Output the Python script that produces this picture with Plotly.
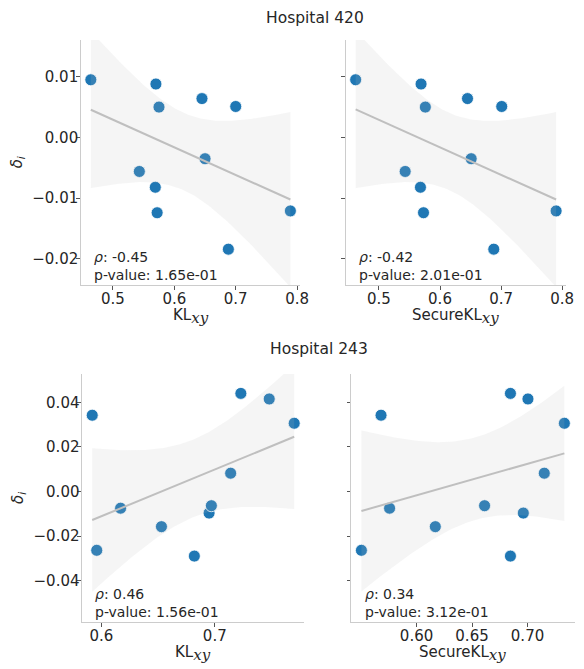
import numpy as np
import plotly.graph_objects as go

# ---------------- data ----------------
kl_420 = [0.464, 0.570, 0.575, 0.645, 0.700, 0.650, 0.543, 0.569, 0.572, 0.688, 0.789]
skl_420 = [0.462, 0.569, 0.576, 0.645, 0.701, 0.651, 0.543, 0.568, 0.573, 0.688, 0.790]
delta_420 = [0.0095, 0.0088, 0.0050, 0.0064, 0.0051, -0.0035, -0.0056, -0.0082, -0.0124, -0.0184, -0.0121]

kl_243 = [0.592, 0.596, 0.617, 0.653, 0.682, 0.695, 0.697, 0.714, 0.723, 0.748, 0.770]
skl_243 = [0.568, 0.5503, 0.5757, 0.6169, 0.6846, 0.6962, 0.6613, 0.7151, 0.6846, 0.7004, 0.7332]
delta_243 = [0.0342, -0.0264, -0.0075, -0.0158, -0.0290, -0.0097, -0.0064, 0.0082, 0.0440, 0.0415, 0.0306]

rho_labels = ["-0.45", "-0.42", "0.46", "0.34"]
pval_labels = ["1.65e-01", "2.01e-01", "1.56e-01", "3.12e-01"]
hospitals = ["Hospital 420", "Hospital 243"]

x_ticks_top = [0.5, 0.6, 0.7, 0.8]
x_ticks_bl = [0.6, 0.7]
x_ticks_br = [0.60, 0.65, 0.70]
y_ticks_top = [0.01, 0.00, -0.01, -0.02]
y_ticks_bot = [0.04, 0.02, 0.00, -0.02, -0.04]

# ---------------- style ----------------
OFF = 8                      # page body margin
W, H = 584 - OFF, 669 - OFF  # figure size inside the window
TXT = "#262626"
FONT = "DejaVu Sans"
PT = "#1f77b4"
LINE = "#bfbfbf"
BAND = "rgba(191,191,191,0.15)"
T975 = 2.262  # t quantile, df = 9


def fx(px):
    return (px - OFF) / W


def fy(py):
    return 1 - (py - OFF) / H


panels = [
    dict(x=kl_420, y=delta_420, xd=[82, 305], yd=[40, 285], yr=[-0.0243, 0.01605],
         xt=x_ticks_top, xf=".1f", yt=y_ticks_top, lab="KL", ylab=True),
    dict(x=skl_420, y=delta_420, xd=[351, 575], yd=[40, 285], yr=[-0.0243, 0.01605],
         xt=x_ticks_top, xf=".1f", yt=y_ticks_top, lab="SecureKL", ylab=False),
    dict(x=kl_243, y=delta_243, xd=[83.3, 309], yd=[374, 622.3], yr=[-0.0587, 0.0527],
         xt=x_ticks_bl, xf=".1f", yt=y_ticks_bot, lab="KL", ylab=True),
    dict(x=skl_243, y=delta_243, xd=[356.7, 583.5], yd=[374, 622.3], yr=[-0.0587, 0.0527],
         xt=x_ticks_br, xf=".2f", yt=y_ticks_bot, lab="SecureKL", ylab=False),
]

fig = go.Figure()
annotations = []
for i, p in enumerate(panels):
    k = "" if i == 0 else str(i + 1)
    xa, ya = "x" + k, "y" + k
    x = np.array(p["x"])
    y = np.array(p["y"])
    n = len(x)
    b1, b0 = np.polyfit(x, y, 1)
    xbar = x.mean()
    sxx = ((x - xbar) ** 2).sum()
    s = np.sqrt(((y - (b0 + b1 * x)) ** 2).sum() / (n - 2))
    g = np.linspace(x.min(), x.max(), 100)
    fit = b0 + b1 * g
    se = s * np.sqrt(1.0 / n + (g - xbar) ** 2 / sxx)
    up, lo = fit + T975 * se, fit - T975 * se

    fig.add_trace(go.Scatter(x=x, y=y, mode="markers", xaxis=xa, yaxis=ya,
                             marker=dict(color=PT, size=12, line=dict(color="white", width=0.8)),
                             showlegend=False, hoverinfo="skip"))
    fig.add_trace(go.Scatter(x=np.concatenate([g, g[::-1]]), y=np.concatenate([up, lo[::-1]]),
                             fill="toself", fillcolor=BAND, line=dict(width=0), mode="lines",
                             xaxis=xa, yaxis=ya, showlegend=False, hoverinfo="skip"))
    fig.add_trace(go.Scatter(x=g, y=fit, mode="lines", line=dict(color=LINE, width=2),
                             xaxis=xa, yaxis=ya, showlegend=False, hoverinfo="skip"))

    xr = x.max() - x.min()
    axis_common = dict(showgrid=False, zeroline=False, showline=True, linecolor="#cccccc",
                       linewidth=1.25, ticks="outside", ticklen=3.5, tickwidth=1,
                       tickcolor="#555555", tickfont=dict(family=FONT, size=15, color=TXT))
    fig.layout["xaxis" + k] = dict(
        domain=[fx(p["xd"][0]), fx(p["xd"][1])], anchor=ya,
        range=[x.min() - 0.05 * xr, x.max() + 0.05 * xr],
        tickvals=p["xt"], tickformat=p["xf"], ticklabelstandoff=-4, **axis_common)
    fig.layout["yaxis" + k] = dict(
        domain=[fy(p["yd"][1]), fy(p["yd"][0])], anchor=xa,
        range=p["yr"], tickvals=p["yt"], tickformat=".2f", ticklabelstandoff=-5,
        showticklabels=p["ylab"], **axis_common)

    pw = p["xd"][1] - p["xd"][0]
    ph = p["yd"][1] - p["yd"][0]
    annotations.append(dict(
        xref=xa + " domain", yref=ya + " domain", x=11.5 / pw, y=0.0,
        xanchor="left", yanchor="bottom", align="left", showarrow=False,
        text=f"<i>ρ</i>: {rho_labels[i]}<br>p-value: {pval_labels[i]}",
        font=dict(family=FONT, size=14, color=TXT)))
    annotations.append(dict(
        xref=xa + " domain", yref=ya + " domain", x=0.5, y=-31.5 / ph,
        xanchor="center", yanchor="middle", showarrow=False,
        text=p["lab"] + "<sub><span style='font-family:DejaVu Serif;font-style:italic;font-size:15px'>xy</span></sub>",
        font=dict(family=FONT, size=15, color=TXT)))
    if p["ylab"]:
        annotations.append(dict(
            xref=xa + " domain", yref=ya + " domain", x=(18 - p["xd"][0]) / pw, y=0.5,
            xanchor="center", yanchor="middle", showarrow=False, textangle=-90,
            text="<i>δ<sub>i</sub></i>",
            font=dict(family=FONT, size=15, color=TXT)))

annotations.append(dict(xref="paper", yref="paper", x=fx(320), y=fy(18),
                        xanchor="center", yanchor="middle", showarrow=False, text=hospitals[0],
                        font=dict(family=FONT, size=15.5, color=TXT)))
annotations.append(dict(xref="paper", yref="paper", x=fx(324), y=fy(349),
                        xanchor="center", yanchor="middle", showarrow=False, text=hospitals[1],
                        font=dict(family=FONT, size=15.5, color=TXT)))

fig.update_layout(width=W, height=H, margin=dict(l=0, r=0, t=0, b=0),
                  paper_bgcolor="white", plot_bgcolor="white",
                  annotations=annotations, showlegend=False)
fig.write_html("out.html")
